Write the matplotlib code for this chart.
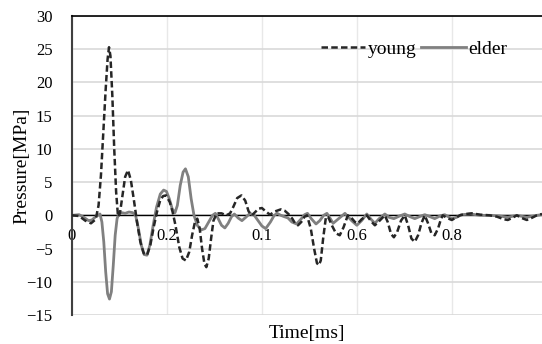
import matplotlib
matplotlib.use('Agg')
import matplotlib.pyplot as plt
import numpy as np

plt.rcParams['font.family'] = ['Liberation Serif', 'DejaVu Serif']

# pressure traces, time in ms, pressure in MPa
t_young = [0.000, 0.015, 0.028, 0.040, 0.050, 0.056, 0.061, 0.066, 0.071, 0.075,
           0.078, 0.081, 0.085, 0.089, 0.093, 0.097, 0.101, 0.106, 0.112, 0.118,
           0.124, 0.130, 0.137, 0.144, 0.151, 0.158, 0.165, 0.172, 0.179, 0.186,
           0.192, 0.198, 0.206, 0.212, 0.218, 0.226, 0.233, 0.240, 0.247, 0.253,
           0.259, 0.264, 0.269, 0.274, 0.279, 0.283, 0.288, 0.293, 0.298, 0.305,
           0.315, 0.325, 0.333, 0.340, 0.348, 0.357, 0.365, 0.372, 0.379, 0.386,
           0.393, 0.400, 0.408, 0.417, 0.428, 0.440, 0.448, 0.456, 0.464, 0.470,
           0.476, 0.483, 0.490, 0.495, 0.503, 0.510, 0.516, 0.520, 0.524, 0.529,
           0.535, 0.540, 0.548, 0.556, 0.564, 0.572, 0.581, 0.590, 0.596, 0.602,
           0.610, 0.621, 0.630, 0.638, 0.648, 0.659, 0.665, 0.672, 0.678, 0.685,
           0.693, 0.701, 0.708, 0.715, 0.722, 0.729, 0.736, 0.743, 0.750, 0.757,
           0.764, 0.771, 0.777, 0.781, 0.790, 0.800, 0.810, 0.817, 0.830, 0.842,
           0.860, 0.880, 0.895, 0.910, 0.918, 0.927, 0.937, 0.947, 0.958, 0.968,
           0.979, 0.990]
p_young = [0.0, -0.1, -0.8, -1.2, -0.6, 1.5, 6.0, 12.5, 19.0, 23.5,
           25.3, 24.0, 18.0, 10.0, 3.5, -0.2, 0.3, 2.8, 5.8, 6.8,
           5.3, 2.5, -1.0, -4.0, -5.7, -6.0, -4.5, -1.8, 0.5, 2.3,
           2.9, 3.0, 2.0, 0.5, -1.5, -4.8, -6.5, -6.8, -5.5, -3.0,
           -1.0, -0.5, -2.0, -5.0, -7.3, -7.8, -6.5, -3.5, -0.8, 0.3,
           0.3, 0.0, 0.3, 1.3, 2.6, 3.0, 2.2, 0.6, 0.0, 0.5,
           1.0, 1.1, 0.6, 0.1, 0.6, 0.9, 0.7, 0.2, -0.5, -1.2,
           -1.5, -1.0, -0.2, 0.0, -2.0, -5.0, -7.2, -7.5, -6.8, -3.5,
           -0.2, -0.3, -1.6, -2.7, -3.0, -1.8, 0.0, -0.5, -1.0, -1.2,
           -0.6, 0.0, -0.9, -1.5, -0.8, 0.0, -1.0, -2.8, -3.3, -2.5,
           -0.8, 0.0, -1.5, -3.5, -4.0, -3.0, -1.2, 0.0, -1.2, -2.7,
           -3.0, -2.0, -0.6, 0.0, -0.4, -0.7, -0.3, 0.0, 0.2, 0.3,
           0.1, 0.0, -0.2, -0.6, -0.7, -0.4, 0.0, -0.4, -0.7, -0.4,
           0.0, 0.2]

t_elder = [0.000, 0.015, 0.025, 0.035, 0.042, 0.050, 0.059, 0.063, 0.067, 0.071,
           0.075, 0.079, 0.083, 0.087, 0.091, 0.095, 0.099, 0.105, 0.112, 0.120,
           0.128, 0.134, 0.140, 0.146, 0.152, 0.158, 0.164, 0.171, 0.178, 0.186,
           0.193, 0.199, 0.205, 0.211, 0.217, 0.222, 0.228, 0.234, 0.239, 0.245,
           0.251, 0.257, 0.264, 0.272, 0.280, 0.288, 0.296, 0.302, 0.308, 0.315,
           0.322, 0.329, 0.336, 0.342, 0.350, 0.358, 0.366, 0.375, 0.384, 0.392,
           0.400, 0.408, 0.418, 0.426, 0.432, 0.440, 0.447, 0.455, 0.463, 0.473,
           0.482, 0.490, 0.496, 0.504, 0.514, 0.522, 0.530, 0.537, 0.545, 0.550,
           0.560, 0.575, 0.589, 0.600, 0.610, 0.621, 0.630, 0.638, 0.647, 0.659,
           0.668, 0.678, 0.690, 0.701, 0.712, 0.722, 0.732, 0.743, 0.754, 0.764,
           0.775, 0.785, 0.795, 0.800, 0.810, 0.820, 0.840, 0.860, 0.880, 0.900,
           0.918, 0.937, 0.958, 0.979, 0.990]
p_elder = [0.0, 0.1, -0.3, -0.8, -0.7, -0.2, 0.2, -1.0, -4.0, -8.5,
           -11.8, -12.6, -11.5, -7.5, -3.0, -0.5, 0.3, 0.4, 0.3, 0.5,
           0.4, 0.0, -2.0, -4.5, -5.9, -6.0, -4.5, -1.5, 1.2, 3.2,
           3.8, 3.6, 2.5, 1.0, 0.4, 1.5, 4.5, 6.5, 7.0, 5.8,
           2.5, 0.0, -1.5, -2.2, -2.0, -1.0, 0.0, 0.3, -0.5, -1.5,
           -1.9, -1.2, -0.2, 0.2, -0.4, -0.8, -0.3, 0.3, 0.0, -0.8,
           -1.6, -2.0, -1.0, 0.0, 0.3, 0.0, -0.2, -0.4, -1.0, -1.3,
           -0.6, 0.1, 0.3, -0.5, -1.3, -0.8, 0.0, 0.3, -0.6, -1.2,
           -0.6, 0.3, -0.8, -1.5, -0.8, 0.2, -0.6, -1.2, -0.5, 0.2,
           -0.3, -0.5, -0.1, 0.2, -0.2, -0.5, -0.2, 0.1, -0.2, -0.5,
           -0.1, 0.1, -0.3, -0.5, -0.3, 0.1, 0.2, 0.0, 0.0, -0.1,
           -0.3, 0.0, -0.3, 0.0, 0.1]

x_ticks = [0, 0.2, 0.4, 0.6, 0.8]
x_tick_labels = ['0', '0.2', '0.1', '0.6', '0.8']
y_ticks = [-15, -10, -5, 0, 5, 10, 15, 20, 25, 30]

fig = plt.figure(figsize=(5.42, 3.44), dpi=100)
ax = fig.add_axes([0.1328, 0.0843, 0.8672, 0.8692])

ax.plot(t_young, p_young, color='#262626', lw=1.8, linestyle=(0, (2.6, 1.3)),
        label='young', zorder=3)
ax.plot(t_elder, p_elder, color='#808080', lw=2.0, label='elder', zorder=2)

ax.set_xlim(0, 0.99)
ax.set_ylim(-15, 30)
ax.set_yticks(y_ticks)
ax.set_xticks(x_ticks)
ax.set_xticklabels(x_tick_labels)

ax.grid(axis='y', color='#d9d9d9', lw=1.2)
ax.grid(axis='x', color='#e8e8e8', lw=1.0)
ax.set_axisbelow(True)

ax.spines['bottom'].set_position(('data', 0))
ax.spines['bottom'].set_color('black')
ax.spines['bottom'].set_linewidth(1.0)
ax.spines['bottom'].set_zorder(1)
ax.spines['left'].set_color('#404040')
ax.spines['left'].set_linewidth(1.5)
ax.spines['top'].set_color('black')
ax.spines['top'].set_linewidth(1.2)
ax.spines['right'].set_visible(False)

ax.tick_params(axis='y', length=0, pad=14, labelsize=12)
ax.tick_params(axis='x', length=0, pad=9, labelsize=12)

ax.set_xlabel('Time[ms]', fontsize=14)
ax.xaxis.set_label_coords(0.5, -0.035)
ax.set_ylabel('Pressure[MPa]', fontsize=14)
ax.yaxis.set_label_coords(-0.089, 0.5)

ax.legend(loc='upper right', bbox_to_anchor=(0.964, 0.977), ncol=2, frameon=False,
          fontsize=14, handlelength=2.3, handletextpad=0.15, columnspacing=0.2)

fig.savefig('out.png', dpi=100)
